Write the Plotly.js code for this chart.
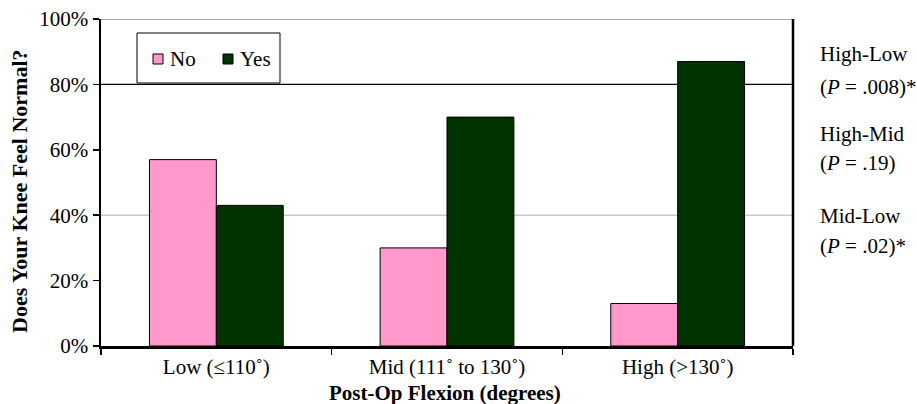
<!DOCTYPE html>
<html>
<head>
<meta charset="utf-8">
<script src="https://cdn.plot.ly/plotly-3.0.1.min.js"></script>
<style>html,body{margin:0;padding:0;background:#fff;}#chart{width:917px;height:404px;}</style>
</head>
<body>
<div id="chart"></div>
<script>
const categories = ["Low (≤110˚)", "Mid (111˚ to 130˚)", "High (>130˚)"];
const noValues = [0.57, 0.30, 0.13];
const yesValues = [0.43, 0.70, 0.87];
const seriesNames = ["No", "Yes"];
const seriesColors = ["#ff99cc", "#003300"];
const pairNotes = ["High-Low", "(<i>P</i> = .008)*", "High-Mid", "(<i>P</i> = .19)", "Mid-Low", "(<i>P</i> = .02)*"];

const FONT = "Liberation Serif, Times New Roman, serif";
const W = 917, H = 404, L = 101, R = 124, T = 19, B = 58;
const pw = W - L - R, ph = H - T - B;
const px = x => (x - L) / pw;
const py = y => (H - B - y) / ph;

const traces = [
  {type: "bar", name: seriesNames[0], x: categories, y: noValues, showlegend: false,
   marker: {color: seriesColors[0], line: {color: "#000", width: 1}}},
  {type: "bar", name: seriesNames[1], x: categories, y: yesValues, showlegend: false,
   marker: {color: seriesColors[1], line: {color: "#000", width: 1}}}
];

const noteY = [54, 87, 134, 163, 216, 246];
const annotations = pairNotes.map((t, i) => ({
  text: t, xref: "paper", yref: "paper", x: px(818), y: py(noteY[i]),
  xanchor: "left", yanchor: "middle", showarrow: false,
  font: {family: FONT, size: 21, color: "#000"}
}));
annotations.push({
  text: "<b>Does Your Knee Feel Normal?</b>", xref: "paper", yref: "paper",
  x: 0, y: py(191), xshift: 19 - L, xanchor: "center", yanchor: "middle",
  textangle: -90, showarrow: false, font: {family: FONT, size: 22, color: "#000"}
});
annotations.push({
  text: "<b>Post-Op Flexion (degrees)</b>", xref: "paper", yref: "paper",
  x: px(445), y: 0, yshift: -(393 - (H - B)), xanchor: "center", yanchor: "middle",
  showarrow: false, font: {family: FONT, size: 21, color: "#000"}
});

// manual legend (box, swatches, labels)
const legendSwatchX = [153, 223];
const legendTextX = [168, 238];
const legendY = 59;
const shapes = [
  {type: "line", xref: "paper", yref: "y", x0: 0, x1: 1, y0: 0.4, y1: 0.4, layer: "below",
   line: {color: "#b0b0b0", width: 1}},
  {type: "line", xref: "paper", yref: "y", x0: 0, x1: 1, y0: 0.8, y1: 0.8, layer: "below",
   line: {color: "#000", width: 1.3}},
  {type: "line", xref: "paper", yref: "y", x0: 0, x1: 1, y0: 1, y1: 1, layer: "below",
   line: {color: "#555", width: 1}},
  {type: "rect", xref: "paper", yref: "paper", x0: px(137), x1: px(280), y0: py(83), y1: py(33),
   layer: "below", fillcolor: "#fff", line: {color: "#000", width: 1}},
  {type: "line", xref: "paper", yref: "paper", x0: 1, x1: 1, y0: 0, y1: 1, layer: "above",
   line: {color: "#000", width: 2.5}}
];
seriesNames.forEach((n, i) => {
  shapes.push({type: "rect", xref: "paper", yref: "paper",
    x0: px(legendSwatchX[i]), x1: px(legendSwatchX[i] + 10),
    y0: py(legendY + 5), y1: py(legendY - 5), layer: "above",
    fillcolor: seriesColors[i], line: {color: "#000", width: 1}});
  annotations.push({text: n, xref: "paper", yref: "paper", x: px(legendTextX[i]), y: py(legendY),
    xanchor: "left", yanchor: "middle", showarrow: false,
    font: {family: FONT, size: 21, color: "#000"}});
});

const layout = {
  width: W, height: H,
  margin: {l: L, r: R, t: T, b: B, pad: 0},
  paper_bgcolor: "#fff", plot_bgcolor: "#fff",
  font: {family: FONT, size: 21, color: "#000"},
  barmode: "group", bargap: 0.42, bargroupgap: 0,
  showlegend: false,
  xaxis: {type: "category", showline: true, linecolor: "#000", linewidth: 2.5,
          ticks: "outside", tickson: "boundaries", ticklen: 6, tickwidth: 1.5, tickcolor: "#000",
          showgrid: false, zeroline: false, tickfont: {family: FONT, size: 21}, fixedrange: true},
  yaxis: {range: [0, 1], dtick: 0.2, tickformat: ".0%", showline: true, linecolor: "#000",
          linewidth: 2.5, ticks: "outside", ticklen: 6, tickwidth: 1.5, tickcolor: "#000",
          showgrid: false, zeroline: false, tickfont: {family: FONT, size: 21}, fixedrange: true},
  shapes: shapes,
  annotations: annotations
};

Plotly.newPlot("chart", traces, layout, {displayModeBar: false, staticPlot: true});
</script>
</body>
</html>
